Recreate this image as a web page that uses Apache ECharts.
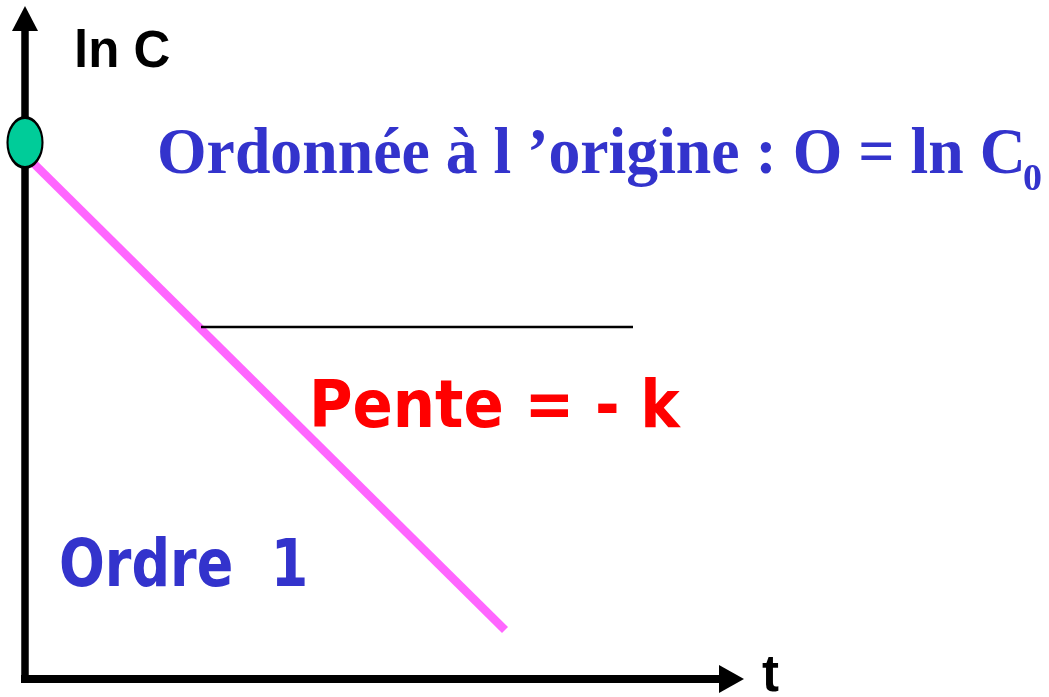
<!DOCTYPE html>
<html>
<head>
<meta charset="utf-8">
<script src="https://cdn.jsdelivr.net/npm/echarts@6/dist/echarts.min.js"></script>
<style>
html,body{margin:0;padding:0;background:#fff;}
#chart{width:1049px;height:697px;}
</style>
</head>
<body>
<div id="chart"></div>
<script>
// Schematic data (arbitrary units)
const tRange = [0, 706.5];
const lnCRange = [0, 660.5];
const lineT = [-18, 480];
const lineLnC = [542, 49];
const interceptT = [0];
const interceptLnC = [536.5];
const slopeRefT = [176, 608];
const slopeRefLnC = [352, 352];
const yAxisName = 'ln C';
const xAxisName = 't';
const interceptText = 'Ordonnée à l ’origine : O = ln C';
const interceptSub = '0';
const slopeText = 'Pente = - k';
const orderText = 'Ordre  1';

const chart = echarts.init(document.getElementById('chart'));
const zip = (a, b) => a.map((v, i) => [v, b[i]]);
const blue = '#3333CC';
const comic = '"Comic Sans MS", "DejaVu Sans", sans-serif';

chart.setOption({
  animation: false,
  backgroundColor: '#ffffff',
  grid: {left: 25, right: 317.5, top: 18.5, bottom: 18, containLabel: false},
  xAxis: {
    type: 'value', min: tRange[0], max: tRange[1],
    splitLine: {show: false}, axisTick: {show: false}, axisLabel: {show: false},
    axisLine: {show: true, symbol: ['none', 'triangle'], symbolSize: [28, 25],
      lineStyle: {color: '#000', width: 8, cap: 'square'}}
  },
  yAxis: {
    type: 'value', min: lnCRange[0], max: lnCRange[1],
    splitLine: {show: false}, axisTick: {show: false}, axisLabel: {show: false},
    axisLine: {show: true, symbol: ['none', 'triangle'], symbolSize: [26, 25],
      lineStyle: {color: '#000', width: 7.5, cap: 'square'}}
  },
  series: [
    {type: 'line', data: zip(lineT, lineLnC), symbol: 'none', clip: false, z: 2,
      lineStyle: {color: '#FF66FF', width: 8.5}},
    {type: 'line', data: zip(slopeRefT, slopeRefLnC), symbol: 'none', clip: false, z: 3,
      lineStyle: {color: '#000', width: 2.5}},
    {type: 'scatter', data: zip(interceptT, interceptLnC), symbol: 'circle', symbolSize: [35, 50],
      clip: false, z: 5,
      itemStyle: {color: '#00CC99', borderColor: '#000', borderWidth: 2.5, opacity: 1}}
  ],
  graphic: [
    {type: 'text', x: 74, y: 27, z: 10, style: {text: yAxisName, font: 'bold 51px "Liberation Sans", Arial, sans-serif', fill: '#000', verticalAlign: 'top'}},
    {type: 'text', x: 762, y: 651, z: 10, style: {text: xAxisName, font: 'bold 51px "Liberation Sans", Arial, sans-serif', fill: '#000', verticalAlign: 'top'}},
    {type: 'text', x: 157, y: 123, scaleX: 0.966, z: 10, style: {text: interceptText, font: 'bold 66px "Liberation Serif", "Times New Roman", serif', fill: blue, verticalAlign: 'top'}},
    {type: 'text', x: 1023, y: 161, z: 10, style: {text: interceptSub, font: 'bold 38px "Liberation Serif", "Times New Roman", serif', fill: blue, verticalAlign: 'top'}},
    {type: 'text', x: 309, y: 377, scaleX: 0.9, z: 10, style: {text: slopeText, font: 'bold 66px ' + comic, fill: '#FF0000', verticalAlign: 'top'}},
    {type: 'text', x: 59, y: 537, scaleX: 0.83, z: 10, style: {text: orderText, font: 'bold 65px ' + comic, fill: blue, verticalAlign: 'top'}}
  ]
});
</script>
</body>
</html>
